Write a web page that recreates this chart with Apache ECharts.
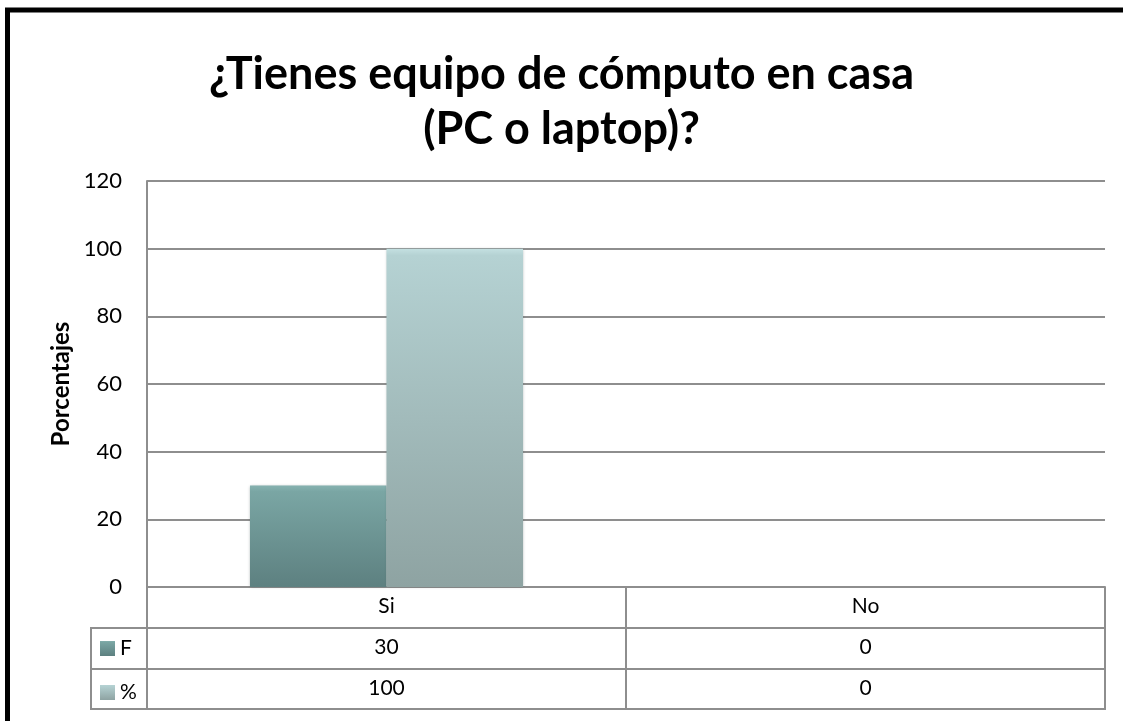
<!DOCTYPE html>
<html>
<head>
<meta charset="utf-8">
<script src="https://cdn.jsdelivr.net/npm/echarts@6/dist/echarts.min.js"></script>
<style>
    html, body { margin: 0; padding: 0; background: #fff; }
    #chart { width: 1123px; height: 721px; }
</style>
</head>
<body>
<div id="chart"></div>
<script>
// datos de la gráfica
var categorias = ['Si', 'No'];
var serieF = [30, 0];
var seriePct = [100, 0];
var nombres = ['F', '%'];
var ticksY = [0, 20, 40, 60, 80, 100, 120];

var gris = '#8e8e8e';
var fuente = 'Lato';

function tablaEje(offset, valores, mostrarLinea) {
    return {
        type: 'category',
        gridIndex: 0,
        position: 'bottom',
        offset: offset,
        data: categorias,
        axisLine: {show: mostrarLinea !== false, lineStyle: {color: gris, width: 2}},
        axisTick: {show: !!valores, length: 41, interval: 0, lineStyle: {color: gris, width: 2}},
        axisLabel: {
            show: !!valores,
            interval: 0,
            margin: 9,
            color: '#000',
            fontFamily: fuente,
            fontSize: 21,
            formatter: function (v, i) {
                return valores ? String(valores[i]) : '';
            }
        },
        splitLine: {show: false}
    };
}

var myChart = echarts.init(document.getElementById('chart'));

var option = {
    backgroundColor: '#fff',
    animation: false,
    title: {
        text: '¿Tienes equipo de cómputo en casa\n(PC o laptop)?',
        left: 'center',
        top: 42,
        textStyle: {
            fontFamily: fuente,
            fontWeight: 'bold',
            fontSize: 45,
            lineHeight: 55,
            color: '#000'
        }
    },
    legend: {
        data: nombres,
        orient: 'vertical',
        left: 100,
        top: 638,
        padding: 0,
        icon: 'rect',
        itemWidth: 15,
        itemHeight: 15,
        itemGap: 23,
        textStyle: {fontFamily: fuente, fontSize: 21, color: '#000'},
        selectedMode: false
    },
    grid: {left: 147, right: 18, top: 181, bottom: 134},
    xAxis: [
        tablaEje(0, categorias),
        tablaEje(41, serieF),
        tablaEje(82, seriePct),
        tablaEje(122, null)
    ],
    yAxis: {
        type: 'value',
        min: 0,
        max: 120,
        interval: 20,
        name: 'Porcentajes',
        nameLocation: 'middle',
        nameGap: 72,
        nameTextStyle: {fontFamily: fuente, fontWeight: 'bold', fontSize: 24, color: '#000'},
        axisLine: {show: true, lineStyle: {color: gris, width: 2}},
        axisTick: {show: false},
        axisLabel: {
            color: '#000',
            fontFamily: fuente,
            fontSize: 22,
            margin: 25,
            formatter: function (v) {
                return ticksY.indexOf(v) >= 0 ? String(v) : '';
            }
        },
        splitLine: {show: true, lineStyle: {color: gris, width: 2}}
    },
    series: [
        {
            name: 'F',
            type: 'bar',
            xAxisIndex: 0,
            data: serieF,
            barGap: '0%',
            barCategoryGap: '43%',
            itemStyle: {
                color: new echarts.graphic.LinearGradient(0, 0, 0, 1, [
                    {offset: 0, color: '#86b2b0'},
                    {offset: 0.06, color: '#7aa6a4'},
                    {offset: 1, color: '#5d8080'}
                ]),
                shadowColor: 'rgba(40,60,60,0.45)',
                shadowBlur: 3
            }
        },
        {
            name: '%',
            type: 'bar',
            xAxisIndex: 0,
            data: seriePct,
            itemStyle: {
                color: new echarts.graphic.LinearGradient(0, 0, 0, 1, [
                    {offset: 0, color: '#c4e0e1'},
                    {offset: 0.02, color: '#b5d2d3'},
                    {offset: 1, color: '#8ea3a2'}
                ]),
                shadowColor: 'rgba(40,60,60,0.45)',
                shadowBlur: 3
            }
        }
    ],
    graphic: [
        // marco negro
        {
            type: 'rect',
            shape: {x: 7.5, y: 10, width: 1200, height: 800},
            style: {fill: 'none', stroke: '#000', lineWidth: 5},
            silent: true
        },
        // columna de leyenda de la tabla
        {
            type: 'polyline',
            shape: {points: [[147, 628], [91, 628], [91, 709], [147, 709]]},
            style: {fill: 'none', stroke: gris, lineWidth: 2},
            silent: true
        },
        {
            type: 'line',
            shape: {x1: 91, y1: 669, x2: 147, y2: 669},
            style: {stroke: gris, lineWidth: 2},
            silent: true
        }
    ]
};

myChart.setOption(option);
</script>
</body>
</html>
